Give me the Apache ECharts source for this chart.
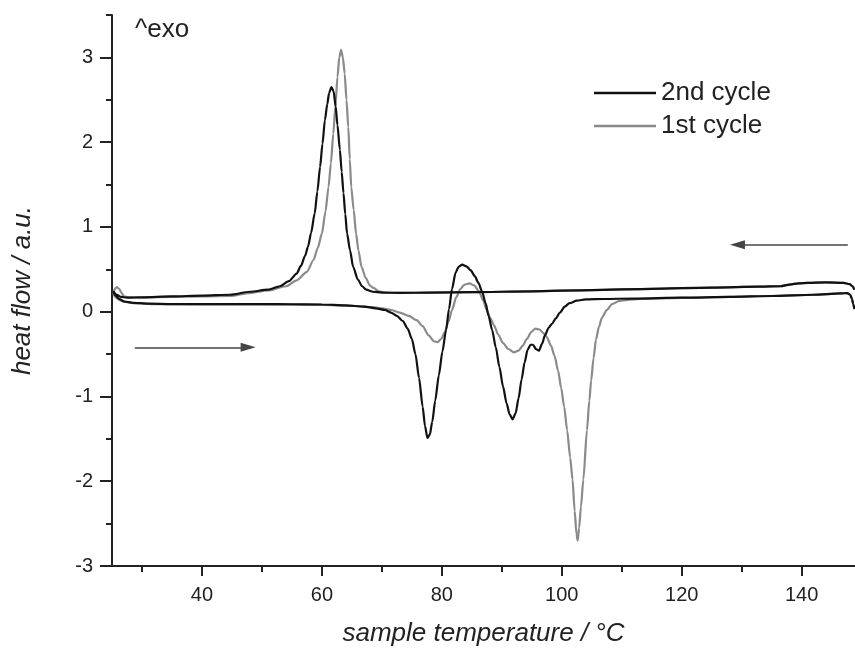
<!DOCTYPE html>
<html>
<head>
<meta charset="utf-8">
<script src="https://cdn.jsdelivr.net/npm/echarts@6/dist/echarts.min.js"></script>
<style>
html,body{margin:0;padding:0;background:#fff;}
#chart{width:855px;height:652px;}
</style>
</head>
<body>
<div id="chart"></div>
<script>
// ---- data: [temperature °C, heat flow a.u.] ----
var cycle2Heating = [[25.2,0.24],[25.6,0.19],[26.2,0.15],[27,0.12],[28.5,0.105],[31,0.095],[35,0.09],[40,0.09],[45,0.09],[50,0.09],[55,0.088],[60,0.085],[64,0.075],[67,0.06],[69,0.04],[70.5,0.02],[71.5,-0.01],[72.5,-0.05],[73.5,-0.11],[74.3,-0.2],[75,-0.32],[75.6,-0.5],[76.2,-0.78],[76.8,-1.12],[77.2,-1.35],[77.6,-1.49],[78,-1.45],[78.4,-1.3],[78.9,-1.05],[79.5,-0.75],[80.1,-0.47],[80.7,-0.22],[81.2,0.03],[81.7,0.27],[82.3,0.46],[82.8,0.53],[83.4,0.555],[84.1,0.535],[84.8,0.49],[85.5,0.42],[86.1,0.34],[86.7,0.24],[87.3,0.1],[87.8,-0.05],[88.4,-0.22],[89,-0.42],[89.6,-0.65],[90.2,-0.88],[90.8,-1.08],[91.3,-1.21],[91.8,-1.27],[92.3,-1.2],[92.8,-1.02],[93.3,-0.8],[93.8,-0.6],[94.3,-0.45],[94.8,-0.39],[95.2,-0.39],[95.7,-0.44],[96.2,-0.46],[96.7,-0.38],[97.2,-0.28],[97.8,-0.19],[98.4,-0.14],[99,-0.08],[99.7,-0.01],[100.5,0.06],[101.3,0.1],[102.5,0.13],[104,0.145],[107,0.15],[112,0.155],[120,0.165],[128,0.175],[135,0.185],[142,0.2],[146.5,0.215],[147.6,0.22],[148.1,0.2],[148.4,0.15],[148.6,0.09],[148.8,0.03]];
var cycle2Cooling = [[148.8,0.26],[148.5,0.3],[148,0.325],[147,0.34],[144,0.345],[141,0.34],[139.5,0.335],[138,0.32],[136.5,0.3],[133,0.295],[125,0.285],[115,0.27],[105,0.255],[95,0.24],[85,0.23],[78,0.225],[73,0.222],[70,0.225],[68.5,0.235],[67.4,0.26],[66.7,0.3],[66,0.38],[65.2,0.53],[64.7,0.72],[64.2,0.92],[63.9,1.15],[63.6,1.4],[63.3,1.65],[63,1.91],[62.6,2.2],[62.3,2.42],[61.95,2.6],[61.6,2.65],[61.2,2.58],[60.9,2.45],[60.5,2.26],[60.1,1.98],[59.7,1.71],[59.25,1.42],[58.8,1.16],[58.2,0.93],[57.7,0.77],[57.2,0.66],[56.5,0.54],[55.8,0.45],[54.5,0.36],[53,0.3],[51,0.26],[48,0.235],[44.7,0.2],[40,0.19],[35,0.18],[30,0.17],[27.5,0.165],[26.5,0.175],[25.8,0.2],[25.2,0.24]];
var cycle1Heating = [[25.2,0.22],[25.6,0.17],[26.3,0.135],[27.3,0.115],[28.8,0.1],[32,0.09],[40,0.085],[50,0.085],[60,0.08],[65,0.07],[68,0.055],[70,0.04],[71.5,0.02],[73,-0.01],[74.5,-0.05],[75.8,-0.1],[76.8,-0.17],[77.8,-0.28],[78.7,-0.35],[79.3,-0.36],[79.9,-0.32],[80.5,-0.24],[81.1,-0.12],[81.7,0.02],[82.4,0.17],[83.1,0.27],[83.8,0.32],[84.6,0.335],[85.4,0.31],[86.2,0.24],[86.9,0.13],[87.5,0.02],[88.1,-0.08],[88.7,-0.16],[89.4,-0.27],[90.2,-0.37],[91.1,-0.44],[92,-0.48],[92.8,-0.46],[93.5,-0.4],[94.2,-0.32],[94.9,-0.24],[95.6,-0.2],[96.3,-0.21],[96.9,-0.25],[97.5,-0.3],[98.2,-0.4],[98.8,-0.52],[99.4,-0.7],[99.9,-0.9],[100.4,-1.12],[100.9,-1.4],[101.4,-1.72],[101.8,-1.98],[102.15,-2.35],[102.45,-2.62],[102.65,-2.7],[102.9,-2.55],[103.2,-2.3],[103.6,-1.98],[104.2,-1.4],[104.6,-1.05],[104.9,-0.81],[105.3,-0.55],[105.7,-0.33],[106.2,-0.18],[106.7,-0.07],[107.5,0.02],[108.4,0.09],[109.5,0.125],[111,0.14],[113,0.15],[120,0.163],[128,0.175],[135,0.185],[142,0.2],[146.5,0.215],[147.6,0.22],[148.1,0.2],[148.4,0.15],[148.6,0.09],[148.8,0.03]];
var cycle1Cooling = [[148.8,0.26],[148.5,0.3],[148,0.325],[147,0.34],[144,0.345],[141,0.34],[139.5,0.335],[138,0.32],[136.5,0.3],[133,0.295],[125,0.285],[115,0.27],[105,0.255],[95,0.24],[85,0.23],[78,0.225],[73,0.222],[70.8,0.225],[69.5,0.24],[68.6,0.28],[68,0.31],[67.3,0.4],[66.6,0.53],[66.1,0.72],[65.7,0.92],[65.3,1.2],[64.9,1.47],[64.65,1.8],[64.4,2.18],[64.1,2.5],[63.8,2.81],[63.5,3.0],[63.2,3.09],[62.9,3.0],[62.6,2.77],[62.25,2.42],[61.9,2.1],[61.5,1.75],[61.1,1.47],[60.6,1.18],[60,0.92],[59.3,0.75],[58.6,0.61],[57.5,0.47],[55.8,0.37],[54,0.3],[51,0.25],[48,0.22],[44.7,0.185],[40,0.18],[35,0.175],[30,0.17],[27.7,0.17],[27,0.18],[26.6,0.22],[26.2,0.27],[25.8,0.29],[25.5,0.27],[25.2,0.22]];

var seriesNames = ['2nd cycle', '1st cycle'];
var xMajorTicks = [40, 60, 80, 100, 120, 140];
var xMinorTicks = [30, 50, 70, 90, 110, 130];
var yMajorTicks = [-3, -2, -1, 0, 1, 2, 3];
var yMinorTicks = [-2.5, -1.5, -0.5, 0.5, 1.5, 2.5, 3.5];
var heatingArrow = [[28.8, -0.42], [47.7, -0.42]];
var coolingArrow = [[147.7, 0.79], [129.3, 0.79]];

var FONT = 'Liberation Sans, Arial, Helvetica, sans-serif';
var AX = '#222';
var BLACK = '#111';
var GRAY = '#8a8a8a';

function curve(name, data, color) {
  return {
    name: name, type: 'line', data: data, symbol: 'none', showSymbol: false,
    smooth: 0.25, smoothMonotone: 'x',
    lineStyle: { color: color, width: 2.2 }, itemStyle: { color: color },
    xAxisIndex: 0, yAxisIndex: 0, silent: true, z: 3
  };
}

function arrow(pts) {
  return [{ coord: pts[0], symbol: 'none' }, { coord: pts[1], symbol: 'triangle', symbolSize: [9, 15] }];
}

var chart = echarts.init(document.getElementById('chart'), null, { renderer: 'canvas' });
chart.setOption({
  animation: false,
  backgroundColor: '#fff',
  title: {
    text: '^exo', left: 135, top: 17, padding: 0,
    textStyle: { fontFamily: FONT, fontSize: 26, fontWeight: 'normal', color: AX, lineHeight: 26 }
  },
  legend: {
    data: seriesNames, orient: 'vertical', left: 594, top: 80, padding: 0,
    icon: 'rect', itemWidth: 62, itemHeight: 2.5, itemGap: 7,
    textStyle: { fontFamily: FONT, fontSize: 26, color: AX, lineHeight: 26 }
  },
  grid: { left: 112, right: 0, top: 15, bottom: 86 },
  xAxis: [{
    type: 'value', min: 25, max: 148.9, position: 'bottom',
    name: 'sample temperature / °C', nameLocation: 'middle', nameGap: 55,
    nameTextStyle: { fontFamily: FONT, fontSize: 26, fontStyle: 'italic', color: AX },
    axisLine: { show: true, onZero: false, lineStyle: { color: AX, width: 2 } },
    axisTick: { show: true, customValues: xMajorTicks, length: 10, inside: false, lineStyle: { color: AX, width: 2 } },
    axisLabel: { show: true, customValues: xMajorTicks, margin: 19, fontFamily: FONT, fontSize: 20, color: AX },
    splitLine: { show: false }
  }, {
    type: 'value', min: 25, max: 148.9, position: 'bottom',
    axisLine: { show: false, onZero: false },
    axisTick: { show: true, customValues: xMinorTicks, length: 6, inside: false, lineStyle: { color: AX, width: 2 } },
    axisLabel: { show: false },
    splitLine: { show: false }
  }],
  yAxis: [{
    type: 'value', min: -3, max: 3.5, position: 'left',
    name: 'heat flow / a.u.', nameLocation: 'middle', nameGap: 76,
    nameTextStyle: { fontFamily: FONT, fontSize: 26, fontStyle: 'italic', color: AX },
    axisLine: { show: true, onZero: false, lineStyle: { color: AX, width: 2 } },
    axisTick: { show: true, customValues: yMajorTicks, length: 12, inside: false, lineStyle: { color: AX, width: 2 } },
    axisLabel: { show: true, customValues: yMajorTicks, margin: 19, fontFamily: FONT, fontSize: 20, color: AX },
    splitLine: { show: false }
  }, {
    type: 'value', min: -3, max: 3.5, position: 'left',
    axisLine: { show: false, onZero: false },
    axisTick: { show: true, customValues: yMinorTicks, length: 6, inside: false, lineStyle: { color: AX, width: 2 } },
    axisLabel: { show: false },
    splitLine: { show: false }
  }],
  series: [
    curve(seriesNames[1], cycle1Heating, GRAY),
    curve(seriesNames[1], cycle1Cooling, GRAY),
    curve(seriesNames[0], cycle2Heating, BLACK),
    curve(seriesNames[0], cycle2Cooling, BLACK),
    {
      name: 'arrows', type: 'line', data: [], xAxisIndex: 0, yAxisIndex: 0, silent: true,
      markLine: {
        silent: true, animation: false, symbol: ['none', 'triangle'], symbolSize: [9, 15],
        label: { show: false },
        lineStyle: { type: 'solid', color: '#444', width: 1.6 },
        itemStyle: { color: '#111' },
        emphasis: { disabled: true },
        data: [arrow(heatingArrow), arrow(coolingArrow)]
      }
    }
  ]
});
</script>
</body>
</html>
